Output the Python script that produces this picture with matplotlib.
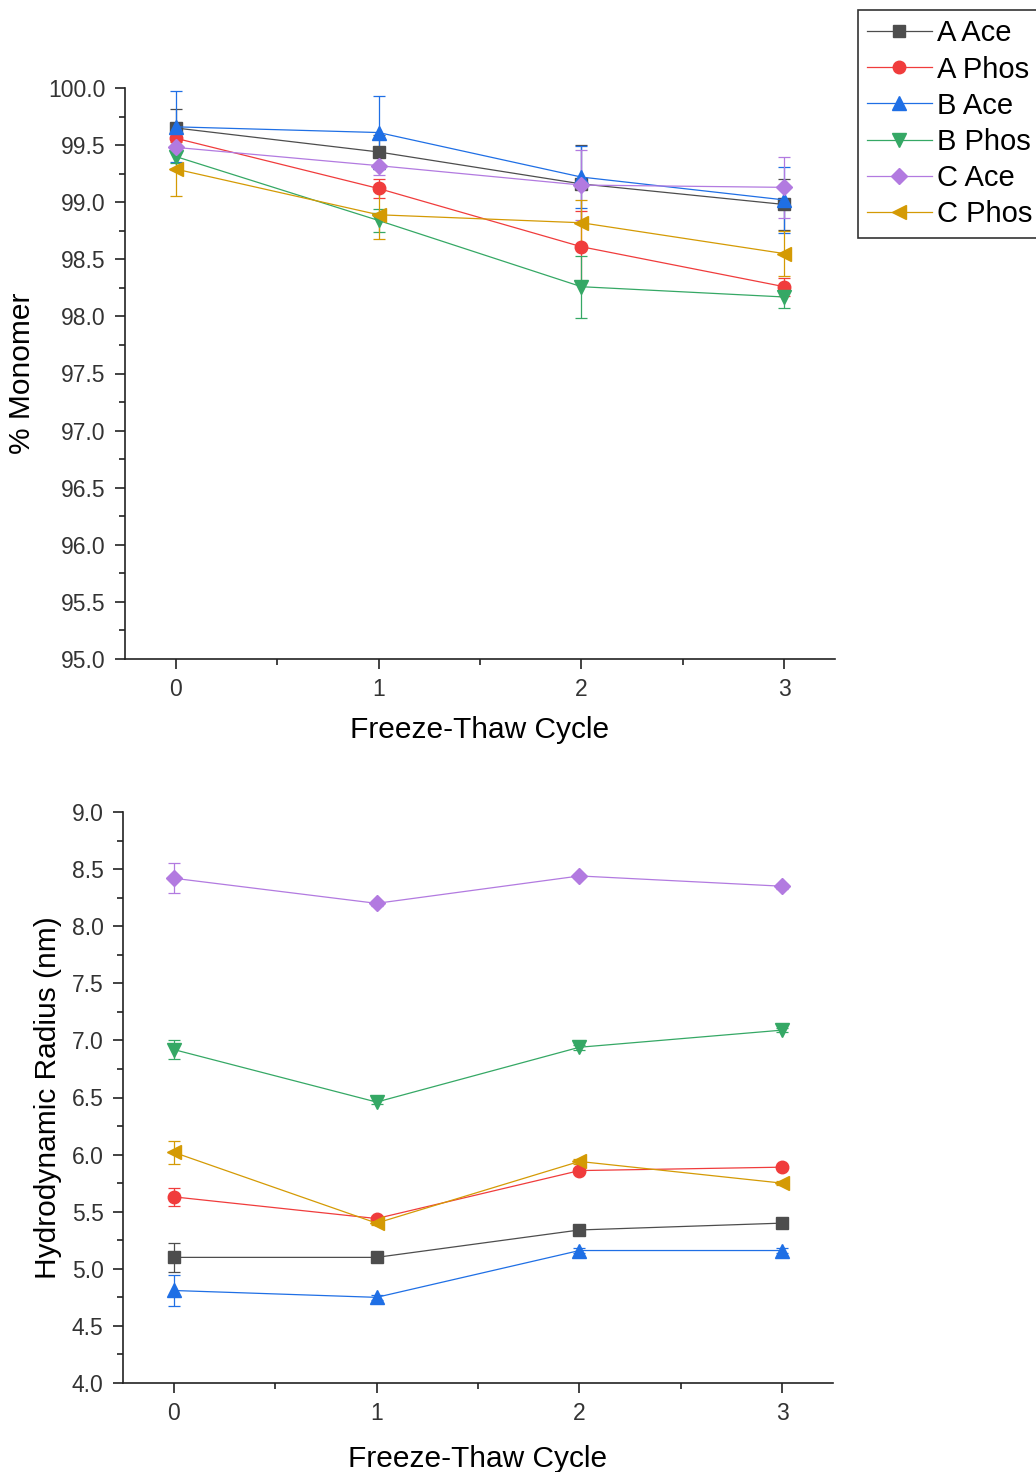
import matplotlib.pyplot as plt
from matplotlib.lines import Line2D
from matplotlib.ticker import MultipleLocator

plt.rcParams['font.family'] = ['Liberation Sans', 'DejaVu Sans']

cycles = [0, 1, 2, 3]
series_names = ["A Ace", "A Phos", "B Ace", "B Phos", "C Ace", "C Phos"]

# % monomer (top panel)
monomer_a_ace = [99.65, 99.44, 99.16, 98.98]
monomer_a_ace_err = [0.17, 0.15, 0.34, 0.22]
monomer_a_phos = [99.56, 99.12, 98.61, 98.26]
monomer_a_phos_err = [0.12, 0.08, 0.31, 0.08]
monomer_b_ace = [99.66, 99.61, 99.22, 99.02]
monomer_b_ace_err = [0.31, 0.32, 0.27, 0.29]
monomer_b_phos = [99.40, 98.84, 98.26, 98.17]
monomer_b_phos_err = [0.06, 0.10, 0.27, 0.10]
monomer_c_ace = [99.48, 99.32, 99.15, 99.13]
monomer_c_ace_err = [0.20, 0.08, 0.31, 0.27]
monomer_c_phos = [99.29, 98.89, 98.82, 98.55]
monomer_c_phos_err = [0.24, 0.21, 0.20, 0.20]

# hydrodynamic radius (bottom panel)
radius_a_ace = [5.10, 5.10, 5.34, 5.40]
radius_a_ace_err = [0.13, 0.02, 0.02, 0.02]
radius_a_phos = [5.63, 5.44, 5.86, 5.89]
radius_a_phos_err = [0.08, 0.02, 0.02, 0.02]
radius_b_ace = [4.81, 4.75, 5.16, 5.16]
radius_b_ace_err = [0.14, 0.02, 0.02, 0.02]
radius_b_phos = [6.92, 6.46, 6.94, 7.09]
radius_b_phos_err = [0.08, 0.02, 0.02, 0.02]
radius_c_ace = [8.42, 8.20, 8.44, 8.35]
radius_c_ace_err = [0.13, 0.02, 0.02, 0.02]
radius_c_phos = [6.02, 5.40, 5.94, 5.75]
radius_c_phos_err = [0.10, 0.02, 0.02, 0.02]

colors = ["#4d4d4d", "#f03c3c", "#1f6fe5", "#35a865", "#b27ae0", "#d49a04"]
markers = ["s", "o", "^", "v", "D", "<"]
msizes = [8.5, 9, 10.5, 10.5, 8, 10.5]

monomer = [(monomer_a_ace, monomer_a_ace_err), (monomer_a_phos, monomer_a_phos_err),
           (monomer_b_ace, monomer_b_ace_err), (monomer_b_phos, monomer_b_phos_err),
           (monomer_c_ace, monomer_c_ace_err), (monomer_c_phos, monomer_c_phos_err)]
radius = [(radius_a_ace, radius_a_ace_err), (radius_a_phos, radius_a_phos_err),
          (radius_b_ace, radius_b_ace_err), (radius_b_phos, radius_b_phos_err),
          (radius_c_ace, radius_c_ace_err), (radius_c_phos, radius_c_phos_err)]

fig = plt.figure(figsize=(10.36, 14.72), dpi=100)
ax1 = fig.add_axes([125 / 1036, 1 - 659 / 1472, 710 / 1036, 571 / 1472])
ax2 = fig.add_axes([123 / 1036, 1 - 1383 / 1472, 710 / 1036, 571 / 1472])


def draw_panel(ax, data, ylim, ylabel, ylabel_x, xlabel_y):
    for (vals, errs), c, m, ms, name in zip(data, colors, markers, msizes, series_names):
        ax.errorbar(cycles, vals, yerr=errs, color=c, marker=m, markersize=ms,
                    markeredgecolor=c, linewidth=0.9, elinewidth=0.9,
                    capsize=4, capthick=0.9, label=name, clip_on=False)
    ax.set_xlim(-0.25, 3.25)
    ax.set_ylim(*ylim)
    ax.xaxis.set_major_locator(MultipleLocator(1))
    ax.xaxis.set_minor_locator(MultipleLocator(0.5))
    ax.yaxis.set_major_locator(MultipleLocator(0.5))
    ax.yaxis.set_minor_locator(MultipleLocator(0.25))
    ax.yaxis.set_major_formatter(lambda v, p: f"{v:.1f}")
    for s in ["top", "right"]:
        ax.spines[s].set_visible(False)
    for s in ["left", "bottom"]:
        ax.spines[s].set_linewidth(1.2)
        ax.spines[s].set_color("#222222")
    ax.tick_params(which="major", direction="out", length=7, width=1.2,
                   labelsize=16.5, labelcolor="#333333", color="#222222", pad=7)
    ax.tick_params(which="minor", direction="out", length=4, width=1.2, color="#222222")
    ax.set_xlabel("Freeze-Thaw Cycle", fontsize=21.5)
    ax.xaxis.set_label_coords(0.5, xlabel_y)
    ax.set_ylabel(ylabel, fontsize=21.5)
    ax.yaxis.set_label_coords(ylabel_x, 0.5)


draw_panel(ax1, monomer, (95, 100), "% Monomer", -0.125, -0.1)
draw_panel(ax2, radius, (4, 9), "Hydrodynamic Radius (nm)", -0.086, -0.108)

handles = [Line2D([], [], color=c, marker=m, markersize=ms, markeredgecolor=c, linewidth=0.9)
           for c, m, ms in zip(colors, markers, msizes)]
leg = fig.legend(handles=handles, labels=series_names, loc="upper left",
                 bbox_to_anchor=(858 / 1036, 1 - 10 / 1472), fontsize=21,
                 frameon=True, fancybox=False, edgecolor="black",
                 labelspacing=0.28, handlelength=2.2, handletextpad=0.2,
                 borderpad=0.32, borderaxespad=0)
leg.get_frame().set_linewidth(1.2)

fig.savefig("out.png", dpi=100)
